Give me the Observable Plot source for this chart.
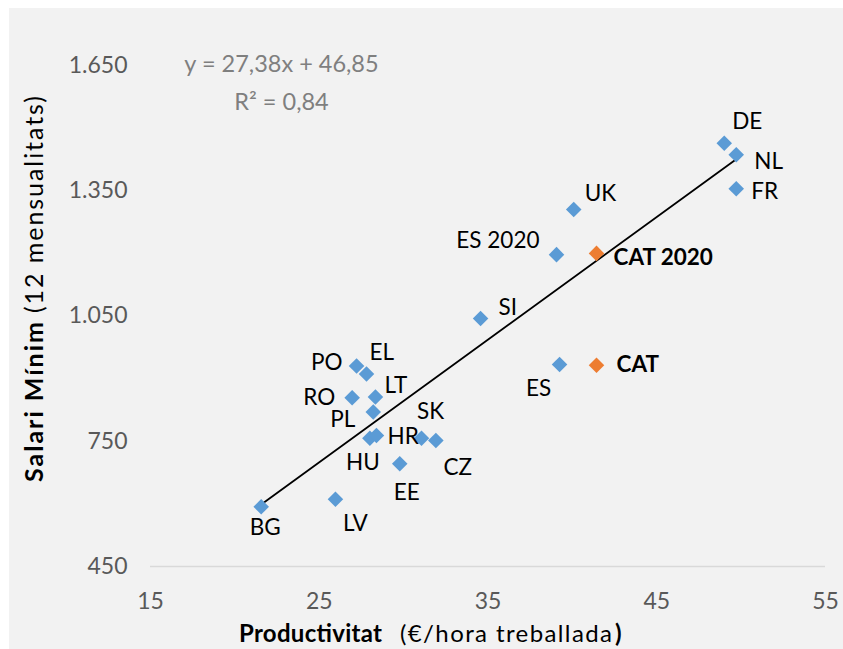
<!DOCTYPE html>
<html><head><meta charset="utf-8">
<script src="https://cdn.jsdelivr.net/npm/d3@7"></script>
<script src="https://cdn.jsdelivr.net/npm/@observablehq/plot@0.6"></script>
<style>
body{margin:0;background:#fff;}
#wrap{position:relative;width:843px;height:649px;overflow:hidden;}
#bg{position:absolute;left:9px;top:8px;right:0;bottom:0;background:#f2f2f2;}
#chart{position:absolute;left:0;top:0;}
</style></head><body>
<div id="wrap"><div id="bg"></div><div id="chart"></div></div>
<script>
// ---- data ----
const countries = ["DE","NL","FR","UK","ES 2020","SI","ES","PO","EL","RO","LT","PL","HU","HR","SK","CZ","EE","LV","BG"];
const productivity = [49.0,49.71,49.71,40.08,39.06,34.56,39.24,27.21,27.80,26.95,28.33,28.20,28.0,28.39,31.06,31.91,29.77,25.96,21.56];
const minWage = [1464,1436,1355,1305,1197,1044,934,930,911,854,856,820,757,764,757,752,696,611,593];
const catLabels = ["CAT 2020","CAT"];
const catProductivity = [41.43,41.43];
const catMinWage = [1200,932];
const xTicks = [15,25,35,45,55];
const yTicks = [450,750,1050,1350,1650];
const equationLines = ["y = 27,38x + 46,85","R² = 0,84"];
const xTitle = ["Productivitat", "(€/hora treballada", ")"];
const yTitle = ["Salari Mínim", "(12 mensualitats)"];

// ---- label placement (px offsets from each point) ----
const place = {
  "DE":{a:"start",dx:8,dy:-21}, "NL":{a:"start",dx:18,dy:7}, "FR":{a:"start",dx:15,dy:3},
  "UK":{a:"start",dx:11,dy:-16}, "ES 2020":{a:"end",dx:-17,dy:-14}, "CAT 2020":{a:"start",dx:17,dy:4},
  "SI":{a:"start",dx:18,dy:-11}, "ES":{a:"middle",dx:-21,dy:24}, "CAT":{a:"start",dx:20,dy:0},
  "PO":{a:"end",dx:-14,dy:-3}, "EL":{a:"start",dx:3,dy:-21}, "RO":{a:"end",dx:-17,dy:0},
  "LT":{a:"start",dx:9,dy:-11}, "PL":{a:"end",dx:-18,dy:8}, "HR":{a:"start",dx:11,dy:1},
  "HU":{a:"middle",dx:-7,dy:24}, "SK":{a:"middle",dx:9,dy:-27}, "CZ":{a:"middle",dx:22,dy:27},
  "EE":{a:"middle",dx:7,dy:29}, "LV":{a:"middle",dx:20,dy:25}, "BG":{a:"middle",dx:4,dy:21}
};

const eu = countries.map((c,i)=>({label:c,x:productivity[i],y:minWage[i],bold:false}));
const cat = catLabels.map((c,i)=>({label:c,x:catProductivity[i],y:catMinWage[i],bold:true}));
const fmt = d3.formatLocale({decimal:",",thousands:".",grouping:[3],currency:["","€"]}).format(",d");

const labelMarks = [...eu, ...cat].map(d => Plot.text([d], {
  x:"x", y:"y", text:"label",
  textAnchor: place[d.label].a, dx: place[d.label].dx, dy: place[d.label].dy,
  fill:"#000", fontSize:22.5, fontWeight: d.bold ? "bold" : "normal"
}));

const plot = Plot.plot({
  width:843, height:649,
  marginLeft:150, marginRight:18, marginTop:65, marginBottom:83,
  style:{background:"transparent", fontFamily:"Lato, sans-serif", fontSize:"23px", overflow:"visible"},
  x:{domain:[15,55], label:null},
  y:{domain:[450,1650], label:null},
  marks:[
    Plot.axisX({ticks:xTicks, tickSize:0, tickPadding:26, label:null, fill:"#595959", fontSize:23}),
    Plot.axisY({ticks:yTicks, tickSize:0, tickPadding:23, label:null, tickFormat:fmt, fill:"#595959", fontSize:23}),
    Plot.ruleY([450], {stroke:"#d9d9d9", strokeWidth:1.3}),
    Plot.linearRegressionY(eu, {x:"x", y:"y", ci:0, stroke:"#000", strokeWidth:1.8}),
    Plot.dot(eu, {x:"x", y:"y", symbol:"diamond2", r:7, fill:"#5b9bd5", stroke:null}),
    Plot.dot(cat, {x:"x", y:"y", symbol:"diamond2", r:7, fill:"#ed7d31", stroke:null}),
    ...labelMarks,
    Plot.text([equationLines[0]], {frameAnchor:"top-left", lineAnchor:"middle", text:d=>d, dx:131, dy:-1, textAnchor:"middle", fill:"#7f7f7f", fontSize:23.5}),
    Plot.text([equationLines[1]], {frameAnchor:"top-left", lineAnchor:"middle", text:d=>d, dx:131, dy:37, textAnchor:"middle", fill:"#7f7f7f", fontSize:23.5})
  ]
});

document.getElementById("chart").appendChild(plot);
const svg = d3.select(plot);

function piece(g, str, x, len, bold, size) {
  return g.append("text")
    .attr("x", x).attr("y", 0).attr("dy", "0.35em")
    .attr("text-anchor", "start")
    .attr("fill", "#000")
    .attr("font-weight", bold ? "bold" : "normal")
    .attr("textLength", len).attr("lengthAdjust", "spacing")
    .style("font-size", size + "px").style("font-family", "Lato, sans-serif")
    .text(str);
}

// x axis title
const gx = svg.append("g").attr("transform", "translate(0,634)");
piece(gx, xTitle[0], 239, 143, true, 24);
piece(gx, xTitle[1], 400, 212, false, 24);
piece(gx, xTitle[2], 615, 9, true, 24);

// y axis title (rotated, read bottom to top)
const gy = svg.append("g").attr("transform", "translate(34,0) rotate(-90)");
piece(gy, yTitle[0], -482, 160, true, 25);
piece(gy, yTitle[1], -313, 217, false, 25);
</script>
</body></html>
